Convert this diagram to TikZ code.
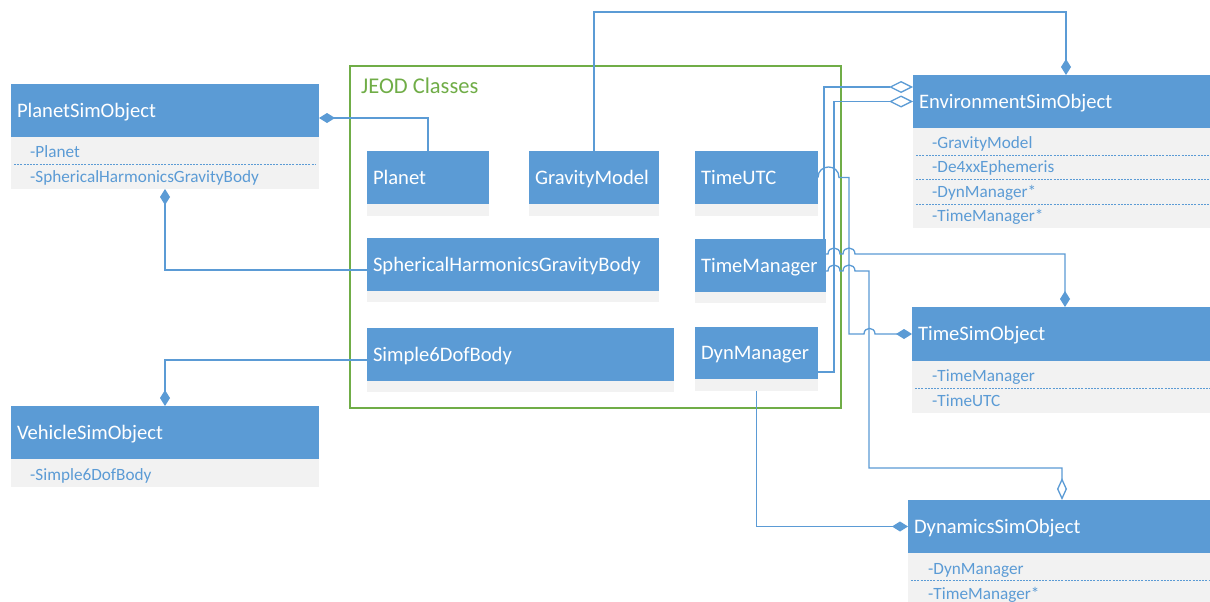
\documentclass[tikz,border=0pt]{standalone}
\usepackage{fontspec}
\setmainfont{Carlito}
\usetikzlibrary{arrows.meta,calc}
\definecolor{hblue}{HTML}{5B9BD5}
\definecolor{bodygray}{HTML}{F2F2F2}
\definecolor{jgreen}{HTML}{70AD47}
\newcommand\hdrfont{\fontsize{20.6}{24}\selectfont}
\newcommand\rowfont{\fontsize{17.2}{20}\selectfont}
\newcommand\lblfont{\fontsize{22.5}{26}\selectfont}
\begin{document}
\begin{tikzpicture}[x=1pt,y=-1pt,
  hdr/.style={fill=hblue,text=white,font=\hdrfont,anchor=north west,inner xsep=6pt,inner ysep=0pt,
              outer sep=0pt,align=left,minimum height=53pt,text height=13.2pt,text depth=0pt},
  strip/.style={fill=bodygray,anchor=north west,inner sep=0pt,outer sep=0pt,minimum height=12pt},
  body/.style={fill=bodygray,anchor=north west,inner sep=0pt,outer sep=0pt},
  row/.style={text=hblue,font=\rowfont,anchor=west,inner sep=0pt,text height=11pt,text depth=0pt},
  sep/.style={draw=hblue,line width=0.8pt,dash pattern=on 2pt off 1.2pt},
  conn/.style={draw=hblue,line width=1.3pt},
  comp/.style={conn,-{Diamond[length=16pt,width=10pt]}},
  aggr/.style={conn,-{Diamond[open,length=24pt,width=12pt]}},
  aggrv/.style={conn,-{Diamond[open,length=22pt,width=10pt]}},
]
\useasboundingbox (0,0) rectangle (1210,602);
\clip (0,0) rectangle (1210,602);
\fill[white] (0,0) rectangle (1210,602);

% ---- JEOD class group ----
\node[draw=jgreen,line width=1.3pt,anchor=north west,inner sep=0pt,outer sep=0pt,
      minimum width=491pt,minimum height=342pt] (jeod) at (350,66) {};
\node[text=jgreen,font=\lblfont,anchor=west,inner sep=0pt,text height=14.5pt,text depth=0pt]
      (jeodlbl) at ($(jeod.north west)+(11,20)$) {JEOD Classes};

\node[hdr,text width=110pt] (planet) at (367,151) {Planet};
\node[strip,minimum width=122pt] (planet-s) at (planet.south west) {};
\node[hdr,text width=118pt] (gravity) at (529,151) {GravityModel};
\node[strip,minimum width=130pt] (gravity-s) at (gravity.south west) {};
\node[hdr,text width=111pt] (utc) at (695,151) {TimeUTC};
\node[strip,minimum width=123pt] (utc-s) at (utc.south west) {};
\node[hdr,text width=280pt] (shgb) at (367,238) {SphericalHarmonicsGravityBody};
\node[strip,minimum width=292pt,minimum height=11pt] (shgb-s) at (shgb.south west) {};
\node[hdr,text width=119pt] (tmgr) at (695,239) {TimeManager};
\node[strip,minimum width=131pt,minimum height=11pt] (tmgr-s) at (tmgr.south west) {};
\node[hdr,text width=295pt] (s6dof) at (367,328) {Simple6DofBody};
\node[strip,minimum width=307pt,minimum height=11pt] (s6dof-s) at (s6dof.south west) {};
\node[hdr,text width=111pt,minimum height=52pt] (dyn) at (695,327) {DynManager};
\node[strip,minimum width=123pt] (dyn-s) at (dyn.south west) {};

% ---- simulation objects ----
\node[hdr,text width=296pt] (pso) at (11,84) {PlanetSimObject};
\node[body,minimum width=308pt,minimum height=52pt] (psob) at (pso.south west) {};
\node[row] (psob-1) at ($(psob.north west)+(19,15)$) {-Planet};
\node[row] (psob-2) at ($(psob.north west)+(19,40)$) {-SphericalHarmonicsGravityBody};
\draw[sep] ($(psob.north west)+(3,27)$) -- ($(psob.north east)+(-3,27)$);

\node[hdr,text width=294pt] (eso) at (913,75) {EnvironmentSimObject};
\node[body,minimum width=306pt,minimum height=100pt] (esob) at (eso.south west) {};
\node[row] (esob-1) at ($(esob.north west)+(19,14.5)$) {-GravityModel};
\node[row] (esob-2) at ($(esob.north west)+(19,39)$) {-De4xxEphemeris};
\node[row] (esob-3) at ($(esob.north west)+(19,63.5)$) {-DynManager*};
\node[row] (esob-4) at ($(esob.north west)+(19,88)$) {-TimeManager*};
\foreach \d in {27,51.5,76}
  \draw[sep] ($(esob.north west)+(3,\d)$) -- ($(esob.north east)+(-3,\d)$);

\node[hdr,text width=294pt,minimum height=54pt] (tso) at (912,307) {TimeSimObject};
\node[body,minimum width=306pt,minimum height=52pt] (tsob) at (tso.south west) {};
\node[row] (tsob-1) at ($(tsob.north west)+(20,15)$) {-TimeManager};
\node[row] (tsob-2) at ($(tsob.north west)+(20,39.5)$) {-TimeUTC};
\draw[sep] ($(tsob.north west)+(3,27)$) -- ($(tsob.north east)+(-3,27)$);

\node[hdr,text width=296pt] (vso) at (11,406) {VehicleSimObject};
\node[body,minimum width=308pt,minimum height=28pt] (vsob) at (vso.south west) {};
\node[row] (vsob-1) at ($(vsob.north west)+(19,15.5)$) {-Simple6DofBody};

\node[hdr,text width=296pt] (dso) at (908,500) {DynamicsSimObject};
\node[body,minimum width=308pt,minimum height=52pt] (dsob) at (dso.south west) {};
\node[row] (dsob-1) at ($(dsob.north west)+(20,16)$) {-DynManager};
\node[row] (dsob-2) at ($(dsob.north west)+(20,41)$) {-TimeManager*};
\draw[sep] ($(dsob.north west)+(3,27)$) -- ($(dsob.north east)+(-3,27)$);

% ---- connectors ----
\draw[comp] (planet.north) |- ($(pso.north east)+(0,34)$);
\draw[comp] ($(shgb.north west)!0.5!(shgb-s.south west)$) -| (psob.south);
\draw[comp] ($(s6dof.north west)!0.5!(s6dof-s.south west)$) -| (vso.north);
\draw[comp] (gravity.north) |- ($(eso.north)+(0,-63)$) -- (eso.north);
\draw[aggr] ($(tmgr.north east)+(-2,0)$) |- ($(eso.north west)+(0,12)$);
\draw[aggr] ($(dyn.north east)+(0,45)$) -- ++(16,0) |- (eso.west);
\draw[comp] (utc.east) .. controls +(0,-14) and +(0,-14) .. ++(21,0) -- ++(10,0)
      |- ($(tso.west)+(-48,0)$) .. controls +(0,-7.5) and +(0,-7.5) .. ++(11,0) -- (tso.west);
\draw[comp] ($(tmgr.north east)+(0,15)$) -- ++(2,0)
      .. controls +(0,-8) and +(0,-8) .. ++(12,0) -- ++(3,0)
      .. controls +(0,-8) and +(0,-8) .. ++(12,0) -| (tso.north);
\draw[aggrv] ($(tmgr.north east)+(0,32)$) -- ++(2,0)
      .. controls +(0,-8) and +(0,-8) .. ++(12,0) -- ++(3,0)
      .. controls +(0,-8) and +(0,-8) .. ++(12,0) -- ++(14,0)
      |- ($(dso.north)+(0,-32)$) -- (dso.north);
\draw[comp] (dyn-s.south) |- (dso.west);
\end{tikzpicture}
\end{document}
